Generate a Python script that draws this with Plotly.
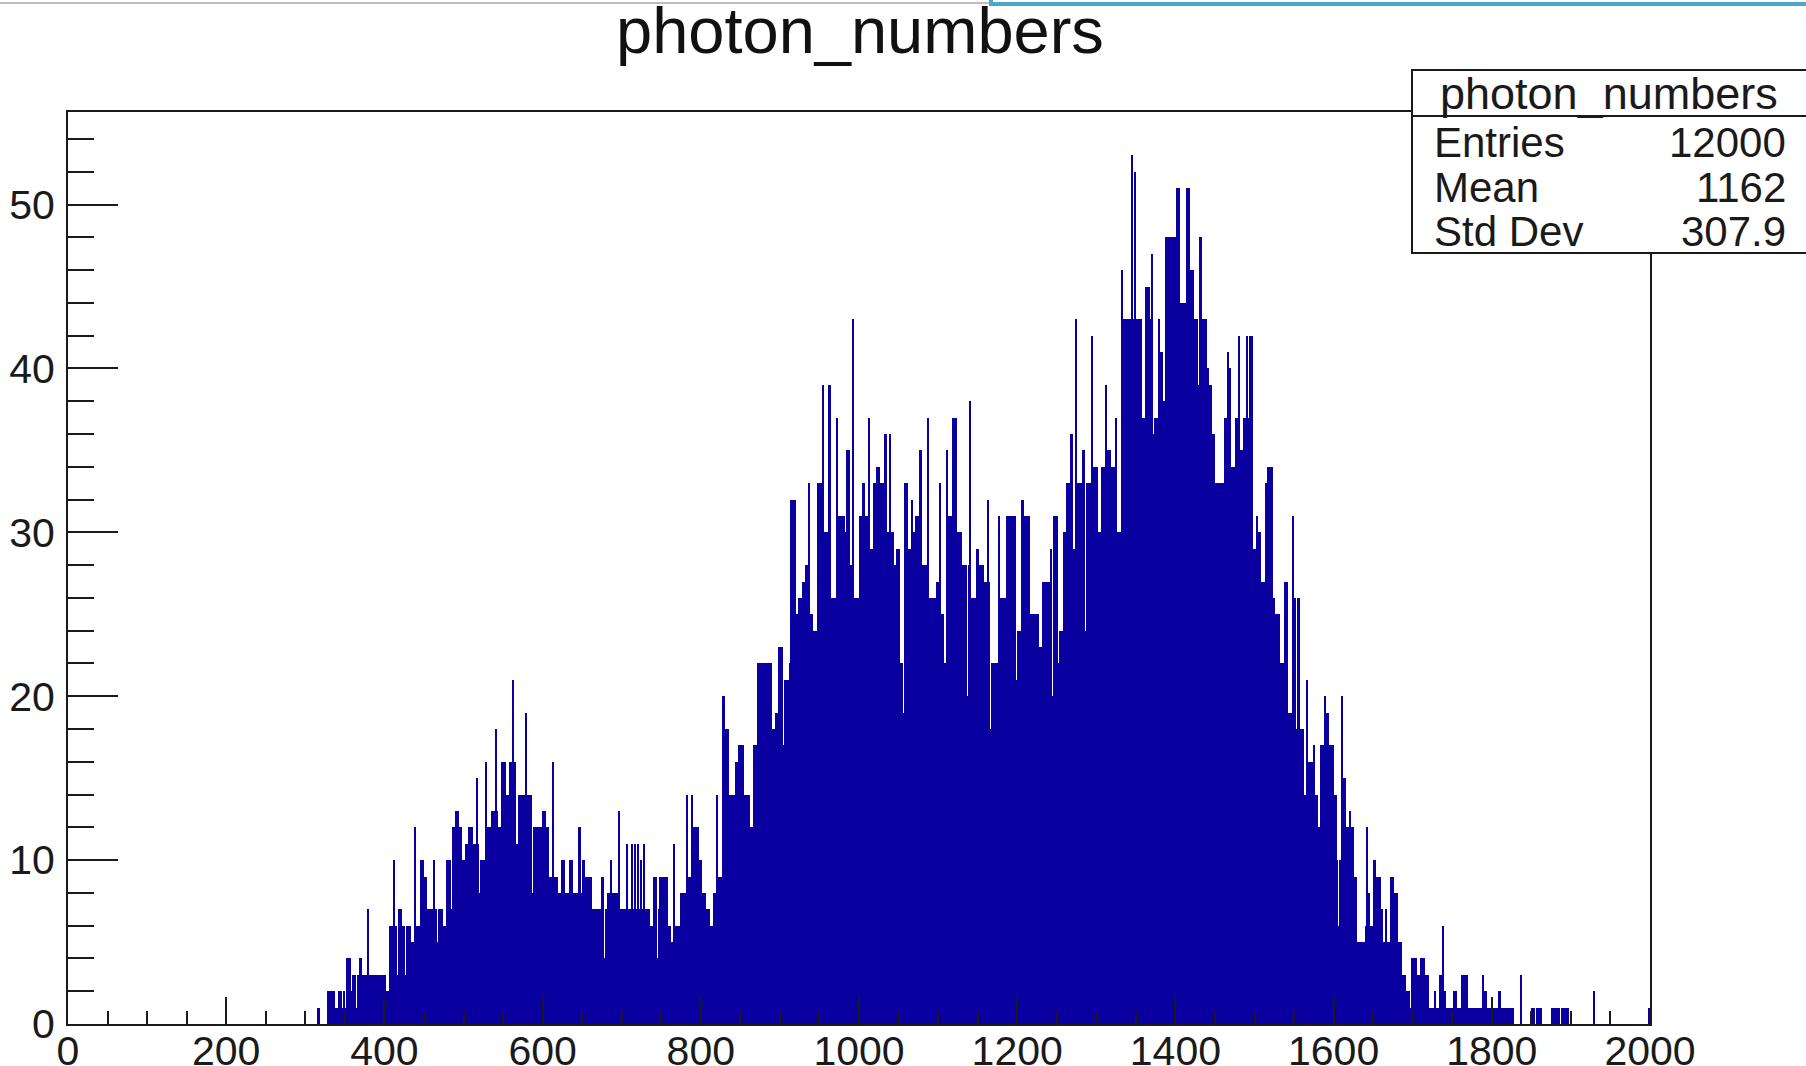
import numpy as np
import plotly.graph_objects as go

# ---- histogram definition (ROOT-style: 1000 bins from 0 to 2000) ----
x_min, x_max, n_bins = 0, 2000, 1000

# bin contents, one list per 100-unit range (50 bins each)
counts_300 = [0,0,0,0,0,0,0,0,1,0, 0,0,0,0,2,2,2,2,2,1, 1,2,2,1,2,1,4,4,4,2,
              3,3,1,3,4,4,3,3,3,7, 3,3,3,3,3,3,3,3,3,3]
counts_400 = [3,2,2,6,6,6,10,6,3,7, 7,6,6,3,6,6,6,5,5,12, 6,6,6,10,10,9,9,7,7,7,
              7,10,7,5,7,7,7,6,6,10, 10,10,7,12,12,13,13,12,12,10]
counts_500 = [10,11,11,12,12,12,11,11,15,11, 8,10,10,10,16,12,12,12,13,13,
              18,13,12,12,16,16,16,14,14,16, 16,21,16,11,11,14,14,14,14,19,
              14,14,14,8,12,12,12,12,12,12]
counts_600 = [13,13,12,12,9,9,16,9,9,9, 8,8,10,10,8,8,8,10,10,8, 8,8,8,12,8,10,10,9,9,9,
              9,7,7,7,7,7,7,9,9,4, 7,8,8,10,8,8,8,8,13,7]
counts_700 = [7,7,7,11,7,7,11,7,11,7, 11,7,10,7,11,7,7,7,6,6, 9,9,4,7,9,9,9,9,9,6,
              6,5,5,11,6,6,6,8,8,8, 8,14,9,9,14,12,12,12,12,10]
counts_800 = [10,8,8,7,7,7,6,6,8,8, 14,9,9,9,20,18,18,18,14,14, 14,14,16,16,17,17,17,14,14,14,
              14,12,12,17,17,17,22,22,22,22, 22,22,22,22,22,18,18,19,19,23]
counts_900 = [23,23,17,21,21,21,22,32,32,32, 25,25,26,26,27,27,28,28,33,25,
              25,24,24,24,33,33,33,39,30,30, 30,39,26,26,26,26,37,31,31,31,
              31,30,35,35,28,28,43,26,26,26]
counts_1000 = [31,31,33,33,31,31,37,29,29,33, 33,34,34,33,33,33,36,36,30,36,
               30,30,28,28,29,29,22,22,19,33, 33,29,29,32,30,30,31,31,35,35,
               28,28,28,37,26,26,26,26,26,27]
counts_1100 = [27,33,25,25,22,35,31,31,31,37, 37,37,30,30,30,28,28,28,20,28,
               38,26,26,26,29,29,28,28,28,27, 27,32,27,18,22,22,22,22,31,26,
               26,26,26,31,31,31,31,31,31,21]
counts_1200 = [24,24,24,32,31,31,31,31,25,25, 25,25,25,25,23,23,27,27,27,27,
               27,29,20,31,31,31,22,24,24,30, 30,33,33,33,36,29,29,43,33,33,
               33,35,35,24,33,33,33,42,34,34]
counts_1300 = [34,30,30,34,34,34,39,35,35,34, 34,34,37,30,30,30,46,43,43,43,
               43,43,53,43,52,43,43,43,43,37, 37,45,45,45,43,47,36,37,37,43,
               41,41,38,38,48,48,48,48,48,48]
counts_1400 = [48,51,51,44,44,44,44,51,51,46, 46,46,43,43,39,48,48,43,43,43,
               40,39,39,36,36,33,33,33,33,33, 33,37,37,41,40,34,34,34,37,37,
               42,35,35,37,37,42,37,42,42,29]
counts_1500 = [29,31,30,30,27,27,27,33,34,34, 34,34,26,25,25,25,22,22,22,27,
               27,19,19,19,31,26,18,26,26,18, 18,14,14,21,16,16,16,17,14,14,
               12,12,17,17,20,19,19,17,17,17]
counts_1600 = [14,14,10,6,10,20,15,15,12,12, 13,12,12,9,9,5,5,5,5,5,
               6,12,8,6,6,10,10,9,9,9, 7,5,5,7,5,5,9,9,8,8,
               8,5,5,3,3,3,2,2,1,4]
counts_1700 = [4,4,4,3,3,4,4,4,3,3, 1,1,1,1,2,1,1,3,3,6, 2,1,1,1,1,1,2,2,1,1,
               1,3,3,3,3,1,1,1,1,1, 1,1,1,1,3,2,2,1,1,1]
counts_1800 = [1,1,1,1,2,2,1,1,1,1, 1,1,1,1,0,0,0,0,3,0, 0,0,0,0,0,1,1,0,1,1,
               1,1,0,0,0,0,0,0,1,1, 1,1,1,0,1,1,1,1,1,0]
counts_1900 = [0,0,0,0,0,0,0,0,0,0, 0,0,0,0,2,0,0,0,0,0, 0,0,0,0,0,0,0,0,0,0,
               0,0,0,0,0,0,0,0,0,0, 0,0,0,0,0,0,0,0,0,1]

stats_labels = ["Entries", "Mean", "Std Dev"]
stats_values = ["12000", "1162", "307.9"]
hist_name = "photon_numbers"

# ---- assemble the histogram ----
bin_w = (x_max - x_min) / n_bins
counts = np.zeros(n_bins)
blocks = [counts_300, counts_400, counts_500, counts_600, counts_700, counts_800,
          counts_900, counts_1000, counts_1100, counts_1200, counts_1300, counts_1400,
          counts_1500, counts_1600, counts_1700, counts_1800, counts_1900]
start = int(300 / bin_w)
for k, blk in enumerate(blocks):
    s = start + 50 * k
    counts[s:s + len(blk)] = blk
centers = x_min + bin_w * (np.arange(n_bins) + 0.5)

# ---- pixel geometry ----
W, H = 1806, 1066
L, R, T, B = 68, 1650, 112, 1024
def px(x):
    return (x - L) / (R - L)
def py(y):
    return (B - y) / (B - T)

fill = "#0a00a0"
ink = "#1a1a1a"
font = "Liberation Sans, Arial, sans-serif"

fig = go.Figure()
fig.add_trace(go.Bar(x=centers, y=counts, width=bin_w,
                     marker=dict(color=fill, line=dict(width=0)),
                     hoverinfo="x+y", showlegend=False))

ymax = counts.max() * 1.05

fig.update_layout(
    width=W, height=H,
    margin=dict(l=L, r=W - R, t=T, b=H - B, pad=0, autoexpand=False),
    paper_bgcolor="white", plot_bgcolor="white",
    bargap=0, showlegend=False,
    font=dict(family=font, color=ink),
    xaxis=dict(range=[x_min, x_max], tickmode="linear", tick0=0, dtick=200,
               ticks="inside", ticklen=27, tickwidth=2, tickcolor=ink,
               minor=dict(dtick=50, ticks="inside", ticklen=13, tickwidth=2, tickcolor=ink),
               showline=True, linewidth=2, linecolor=ink, mirror=True,
               showgrid=False, zeroline=False, automargin=False,
               tickfont=dict(size=41, family=font, color=ink), ticklabelstandoff=-10),
    yaxis=dict(range=[0, ymax], tickmode="linear", tick0=0, dtick=10,
               ticks="inside", ticklen=50, tickwidth=2, tickcolor=ink,
               minor=dict(dtick=2, ticks="inside", ticklen=26, tickwidth=2, tickcolor=ink),
               showline=True, linewidth=2, linecolor=ink, mirror=True,
               showgrid=False, zeroline=False, automargin=False,
               tickfont=dict(size=41, family=font, color=ink), ticklabelstandoff=3),
)

shapes = []
# screenshot chrome at the very top
shapes.append(dict(type="line", xref="paper", yref="paper",
                   x0=px(0), x1=px(990), y0=py(3), y1=py(3),
                   line=dict(color="#bdbdbd", width=2), layer="above"))
shapes.append(dict(type="path", xref="paper", yref="paper",
                   path=f"M {px(991)} {py(-2)} L {px(991)} {py(4)} L {px(1812)} {py(4)}",
                   line=dict(color="#4aa9c9", width=4), layer="above"))
# stats box
shapes.append(dict(type="rect", xref="paper", yref="paper",
                   x0=px(1412), x1=px(1812), y0=py(253), y1=py(70),
                   line=dict(color=ink, width=2), fillcolor="white", layer="above"))
shapes.append(dict(type="line", xref="paper", yref="paper",
                   x0=px(1412), x1=px(1812), y0=py(116), y1=py(116),
                   line=dict(color=ink, width=2), layer="above"))
fig.update_layout(shapes=shapes)

ann = []
ann.append(dict(text=hist_name, xref="paper", yref="paper", x=px(860), y=py(31),
                xanchor="center", yanchor="middle", showarrow=False,
                font=dict(size=65, family=font, color="#111")))
ann.append(dict(text=hist_name, xref="paper", yref="paper", x=px(1609), y=py(93),
                xanchor="center", yanchor="middle", showarrow=False,
                font=dict(size=45, family=font, color=ink)))
row_y = [142, 187, 232]
for lab, val, yy in zip(stats_labels, stats_values, row_y):
    ann.append(dict(text=lab, xref="paper", yref="paper", x=px(1432), y=py(yy),
                    xanchor="left", yanchor="middle", showarrow=False,
                    font=dict(size=42, family=font, color=ink)))
    ann.append(dict(text=val, xref="paper", yref="paper", x=px(1788), y=py(yy),
                    xanchor="right", yanchor="middle", showarrow=False,
                    font=dict(size=42, family=font, color=ink)))
fig.update_layout(annotations=ann)

fig.write_html("out.html")
